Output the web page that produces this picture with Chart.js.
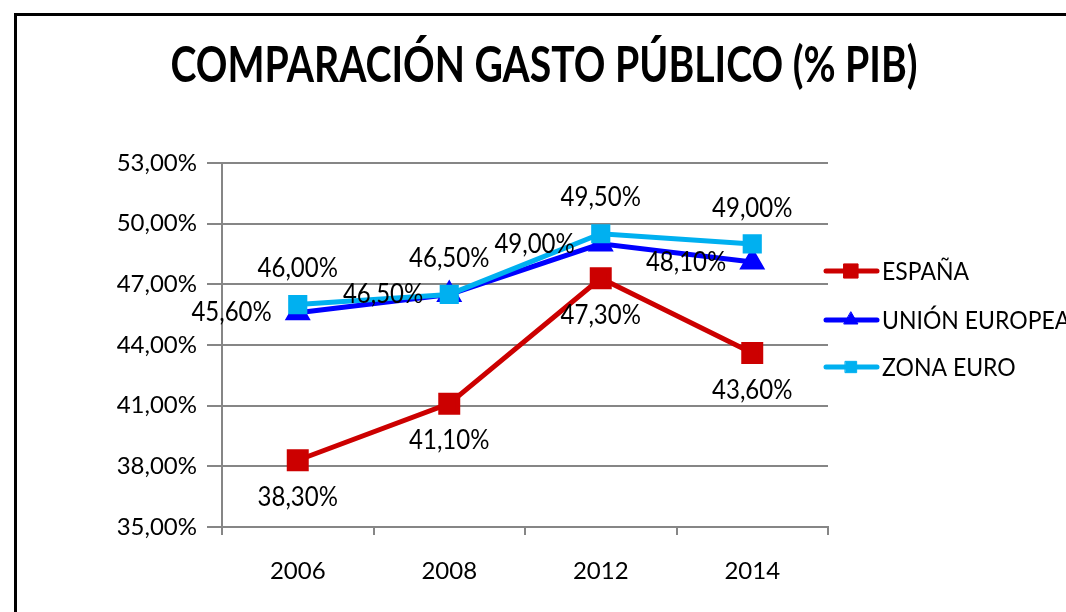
<!DOCTYPE html>
<html>
<head>
<meta charset="utf-8">
<script src="https://cdn.jsdelivr.net/npm/chart.js@4"></script>
<style>
  html, body { margin: 0; padding: 0; background: #fff; }
  #wrap { position: relative; width: 1066px; height: 612px; overflow: hidden; }
</style>
</head>
<body>
<div id="wrap"><canvas id="gasto" width="1066" height="612"></canvas></div>
<script>
// -------------------------
// Data
// -------------------------
const years = ["2006", "2008", "2012", "2014"];
const espana = [38.3, 41.1, 47.3, 43.6];
const unionEuropea = [45.6, 46.5, 49.0, 48.1];
const zonaEuro = [46.0, 46.5, 49.5, 49.0];
const yTicks = [35, 38, 41, 44, 47, 50, 53];

const chartTitle = "COMPARACIÓN GASTO PÚBLICO (% PIB)";
const FONT = "Lato, 'Open Sans', sans-serif";
const GRID = "#868686";

const fmtPct = v => v.toFixed(2).replace(".", ",") + "%";

// text drawn a bit taller than wide, like the original's narrow font
function tallText(ctx, txt, x, y, stretch) {
  ctx.save();
  ctx.translate(x, y);
  ctx.scale(1, stretch);
  ctx.fillText(txt, 0, 0);
  ctx.restore();
}

// -------------------------
// Frame + title
// -------------------------
const framePlugin = {
  id: "frame",
  beforeDraw(chart) {
    const ctx = chart.ctx;
    ctx.save();
    ctx.fillStyle = "#fff";
    ctx.fillRect(0, 0, chart.width, chart.height);
    ctx.strokeStyle = "#000";
    ctx.lineWidth = 3;
    ctx.beginPath();
    ctx.moveTo(15.5, chart.height + 5);
    ctx.lineTo(15.5, 14.5);
    ctx.lineTo(chart.width + 5, 14.5);
    ctx.stroke();

    // title, fitted to the reference width
    ctx.fillStyle = "#000";
    ctx.font = "bold 44px " + FONT;
    const w = ctx.measureText(chartTitle).width;
    const size = 44 * 748 / w;
    ctx.font = "bold " + size.toFixed(1) + "px " + FONT;
    ctx.textAlign = "center";
    ctx.textBaseline = "middle";
    tallText(ctx, chartTitle, 544, 66, 1.25);
    ctx.restore();
  }
};

// -------------------------
// Data labels
// -------------------------
const labelPlugin = {
  id: "pointLabels",
  afterDatasetsDraw(chart) {
    const ctx = chart.ctx;
    ctx.save();
    ctx.font = "24px " + FONT;
    ctx.fillStyle = "#000";
    ctx.textBaseline = "middle";
    chart.data.datasets.forEach((ds, i) => {
      const meta = chart.getDatasetMeta(i);
      meta.data.forEach((pt, j) => {
        const txt = fmtPct(ds.data[j]);
        if (ds.labelPos === "below") {
          ctx.textAlign = "center";
          tallText(ctx, txt, pt.x, pt.y + 37, 1.12);
        } else if (ds.labelPos === "above") {
          ctx.textAlign = "center";
          tallText(ctx, txt, pt.x, pt.y - 36, 1.12);
        } else {
          ctx.textAlign = "right";
          tallText(ctx, txt, pt.x - 26, pt.y, 1.12);
        }
      });
    });
    ctx.restore();
  }
};

// -------------------------
// Legend (right side, cut off at the edge like the original)
// -------------------------
const legendPlugin = {
  id: "sideLegend",
  afterDraw(chart) {
    const ctx = chart.ctx;
    const rows = [271, 320, 367];
    ctx.save();
    ctx.font = "23px " + FONT;
    ctx.textAlign = "left";
    ctx.textBaseline = "middle";
    chart.data.datasets.forEach((ds, k) => {
      const y = rows[k];
      ctx.strokeStyle = ds.borderColor;
      ctx.lineWidth = 5;
      ctx.lineCap = "round";
      ctx.beginPath();
      ctx.moveTo(826, y);
      ctx.lineTo(877, y);
      ctx.stroke();
      ctx.fillStyle = ds.pointBackgroundColor;
      ctx.strokeStyle = ds.pointBorderColor;
      ctx.lineWidth = 1;
      Chart.helpers.drawPoint(ctx, {
        pointStyle: ds.pointStyle,
        radius: ds.pointRadius - 2,
        borderWidth: 1
      }, 851, y);
      ctx.fillStyle = "#000";
      tallText(ctx, ds.label, 882, y + 1, 1.1);
    });
    ctx.restore();
  }
};

// -------------------------
// Chart
// -------------------------
const ctx = document.getElementById("gasto").getContext("2d");
new Chart(ctx, {
  type: "line",
  data: {
    labels: years,
    datasets: [
      {
        label: "ESPAÑA",
        data: espana,
        borderColor: "#CC0000",
        backgroundColor: "#CC0000",
        pointBackgroundColor: "#CC0000",
        pointBorderColor: "#CC0000",
        pointStyle: "rect",
        pointRadius: 12,
        borderWidth: 5,
        labelPos: "below",
        order: 2
      },
      {
        label: "UNIÓN EUROPEA",
        data: unionEuropea,
        borderColor: "#0000FF",
        backgroundColor: "#0000FF",
        pointBackgroundColor: "#0000FF",
        pointBorderColor: "#0000FF",
        pointStyle: "triangle",
        pointRadius: 10,
        borderWidth: 5,
        labelPos: "left",
        order: 1
      },
      {
        label: "ZONA EURO",
        data: zonaEuro,
        borderColor: "#00B0F0",
        backgroundColor: "#00B0F0",
        pointBackgroundColor: "#00B0F0",
        pointBorderColor: "#00B0F0",
        pointStyle: "rect",
        pointRadius: 10,
        borderWidth: 5,
        labelPos: "above",
        order: 0
      }
    ]
  },
  options: {
    responsive: false,
    devicePixelRatio: 1,
    animation: false,
    layout: { padding: { left: 0, right: 238, top: 163, bottom: 0 } },
    plugins: {
      legend: { display: false },
      title: { display: false },
      tooltip: { enabled: false }
    },
    elements: { line: { tension: 0 } },
    scales: {
      x: {
        offset: true,
        afterFit: s => { s.height = 85; },
        grid: {
          offset: true,
          drawOnChartArea: false,
          drawTicks: true,
          tickLength: 8,
          color: GRID,
          lineWidth: 2
        },
        border: { color: GRID, width: 2 },
        ticks: { color: "#000", font: { family: FONT, size: 24 }, padding: 22 }
      },
      y: {
        min: yTicks[0],
        max: yTicks[yTicks.length - 1],
        afterFit: s => { s.width = 222; },
        afterBuildTicks: s => { s.ticks = yTicks.map(v => ({ value: v })); },
        grid: { color: GRID, lineWidth: 2, tickLength: 15 },
        border: { color: GRID, width: 2 },
        ticks: {
          color: "#000",
          font: { family: FONT, size: 24 },
          padding: 10,
          callback: v => fmtPct(v)
        }
      }
    }
  },
  plugins: [framePlugin, labelPlugin, legendPlugin]
});
</script>
</body>
</html>
